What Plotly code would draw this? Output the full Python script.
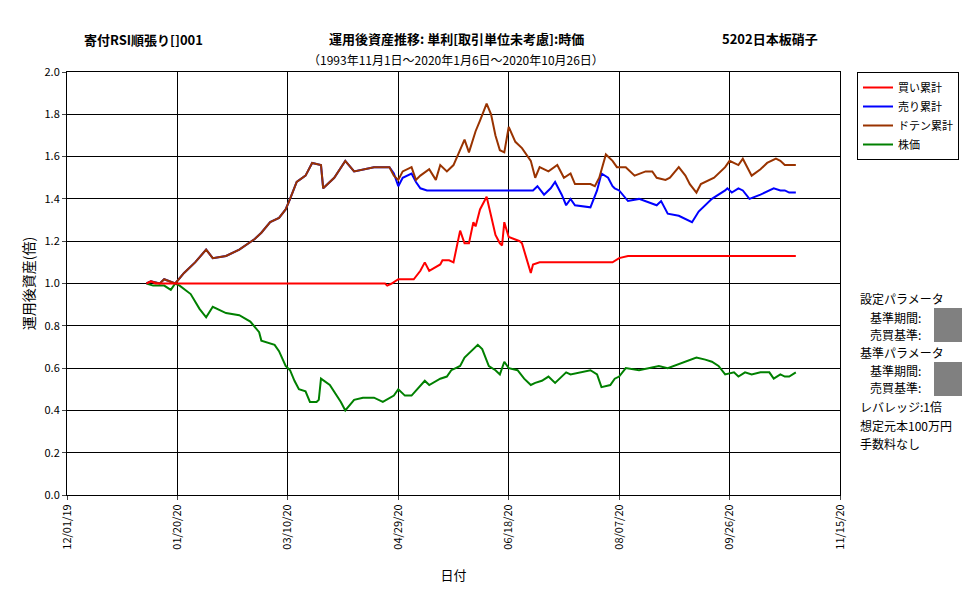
import pandas as pd
import plotly.graph_objects as go

BASE = "2019-12-01"
brown_days = [36,38,42,44,49,53,58,63,66,72,78,85,88,92,96,99,101,104,108,111,115,116,121,126,130,134,139,144,146,148,150,152,156,158,160,164,167,169,172,175,178,180,182,185,187,190,192,194,196,198,200,203,206,210,212,214,218,222,225,228,230,237,239,241,244,247,249,253,257,262,265,267,271,273,277,280,282,285,287,293,298,300,304,306,310,314,317,321,323,325,327,330]
brown_vals = [1.00,1.01,1.00,1.02,1.00,1.05,1.10,1.16,1.12,1.13,1.16,1.21,1.24,1.29,1.31,1.35,1.40,1.48,1.51,1.57,1.56,1.45,1.50,1.58,1.53,1.54,1.55,1.55,1.55,1.51,1.49,1.53,1.55,1.49,1.51,1.54,1.49,1.56,1.53,1.56,1.63,1.68,1.62,1.72,1.77,1.85,1.80,1.70,1.63,1.62,1.74,1.67,1.64,1.58,1.50,1.55,1.53,1.56,1.50,1.52,1.47,1.47,1.46,1.50,1.61,1.58,1.55,1.55,1.51,1.53,1.53,1.50,1.49,1.50,1.55,1.51,1.47,1.43,1.47,1.50,1.55,1.58,1.56,1.59,1.51,1.54,1.57,1.59,1.58,1.56,1.56,1.56]

blue_days = [36,38,42,44,49,53,58,63,66,72,78,85,88,92,96,99,101,104,108,111,115,116,121,126,130,134,139,144,146,148,150,152,156,158,160,163,211,213,216,219,221,224,226,228,230,237,240,242,245,247,248,250,254,259,262,267,269,272,277,283,286,292,298,299,301,304,306,309,314,318,320,323,325,327,330]
blue_vals = [1.00,1.01,1.00,1.02,1.00,1.05,1.10,1.16,1.12,1.13,1.16,1.21,1.24,1.29,1.31,1.35,1.40,1.48,1.51,1.57,1.56,1.45,1.50,1.58,1.53,1.54,1.55,1.55,1.55,1.52,1.46,1.50,1.52,1.48,1.45,1.44,1.44,1.46,1.42,1.45,1.48,1.42,1.37,1.40,1.37,1.36,1.44,1.52,1.50,1.46,1.45,1.44,1.39,1.40,1.39,1.37,1.39,1.33,1.32,1.29,1.34,1.40,1.44,1.45,1.43,1.45,1.44,1.40,1.42,1.44,1.45,1.44,1.44,1.43,1.43]

red_days = [36,38,40,42,144,145,147,150,157,160,162,164,169,170,173,175,177,178,180,182,184,185,187,190,192,194,196,197,198,200,205,206,208,210,211,214,247,250,254,330]
red_vals = [1.00,1.01,1.00,1.00,1.00,0.99,1.00,1.02,1.02,1.06,1.10,1.06,1.09,1.11,1.11,1.10,1.19,1.25,1.19,1.19,1.29,1.27,1.35,1.41,1.32,1.23,1.19,1.18,1.29,1.22,1.20,1.19,1.12,1.05,1.09,1.10,1.10,1.12,1.13,1.13]

green_days = [36,39,44,47,49,51,56,60,63,66,72,78,83,87,88,91,94,96,99,101,103,105,108,110,113,114,115,119,121,124,126,130,134,136,139,143,146,148,150,153,156,160,162,164,169,172,174,176,178,180,181,186,188,191,194,196,198,200,204,207,210,212,215,218,221,223,226,228,237,240,242,246,248,250,253,259,264,268,272,277,282,285,289,292,295,298,302,304,307,310,314,318,320,323,325,327,330]
green_vals = [1.00,0.99,0.99,0.97,1.00,0.99,0.95,0.88,0.84,0.89,0.86,0.85,0.82,0.77,0.73,0.72,0.71,0.68,0.61,0.59,0.54,0.50,0.49,0.44,0.44,0.45,0.55,0.52,0.49,0.44,0.40,0.45,0.46,0.46,0.46,0.44,0.46,0.47,0.50,0.47,0.47,0.52,0.54,0.52,0.55,0.56,0.59,0.60,0.61,0.65,0.66,0.71,0.69,0.61,0.59,0.57,0.63,0.60,0.59,0.55,0.52,0.53,0.54,0.56,0.53,0.55,0.58,0.57,0.59,0.57,0.51,0.52,0.55,0.56,0.60,0.59,0.60,0.61,0.60,0.62,0.64,0.65,0.64,0.63,0.61,0.57,0.58,0.56,0.58,0.57,0.58,0.58,0.55,0.57,0.56,0.56,0.58]

series_names = ["買い累計", "売り累計", "ドテン累計", "株価"]
series_colors = ["#ff0000", "#0000ff", "#993300", "#008000"]
tick_dates = ["2019-12-01","2020-01-20","2020-03-10","2020-04-29","2020-06-18","2020-08-07","2020-09-26","2020-11-15"]

def to_dates(days):
    return pd.Timestamp(BASE) + pd.to_timedelta(days, unit="D")

L, R, T, B = 67, 840, 72, 495
OFF = 8  # page offset
def px(x): return (x - L) / (R - L)
def py(y): return (B - y) / (B - T)

FONT = "Noto Sans CJK JP"
fig = go.Figure()
data = [(red_days, red_vals), (blue_days, blue_vals), (brown_days, brown_vals), (green_days, green_vals)]
for i in [3, 1, 2, 0]:
    d, v = data[i]
    fig.add_trace(go.Scatter(x=to_dates(d), y=v, mode="lines", name=series_names[i],
                             line=dict(color=series_colors[i], width=2), legendrank=i+1))

fig.update_layout(
    width=977, height=600, paper_bgcolor="white", plot_bgcolor="white",
    margin=dict(l=L-OFF, r=977-R+OFF, t=T-OFF, b=600-B+OFF, autoexpand=False),
    font=dict(family=FONT, size=12, color="black"),
    showlegend=True,
    legend=dict(x=px(857), y=py(72), xanchor="left", yanchor="top", bordercolor="black", borderwidth=1,
                font=dict(size=11), tracegroupgap=6, itemwidth=30),
    xaxis=dict(range=[pd.Timestamp(tick_dates[0]), pd.Timestamp(tick_dates[-1])],
               tickvals=pd.to_datetime(tick_dates),
               ticktext=[pd.Timestamp(t).strftime("%m/%d/%y") for t in tick_dates],
               tickangle=-90, showgrid=True, gridcolor="black", gridwidth=1, automargin=False,
               showline=True, linecolor="black", mirror=True, ticks="outside", ticklen=4,
               title=dict(text="日付", standoff=22, font=dict(size=13)), tickfont=dict(size=11)),
    yaxis=dict(range=[0, 2], dtick=0.2, tickformat=".1f", showgrid=True, gridcolor="black",
               gridwidth=1, showline=True, linecolor="black", mirror=True, ticks="outside",
               ticklen=4, zeroline=False, title=dict(text="運用後資産(倍)", standoff=6),
               tickfont=dict(size=11), automargin=False),
)

ann = [
    dict(x=143, y=40, text="<b>寄付RSI順張り[]001</b>", s=13),
    dict(x=456, y=38, text="<b>運用後資産推移: 単利[取引単位未考慮]:時価</b>", s=13),
    dict(x=770, y=38, text="<b>5202日本板硝子</b>", s=13),
    dict(x=456, y=60, text="（1993年11月1日～2020年1月6日～2020年10月26日）", s=12),
]
for a in ann:
    fig.add_annotation(x=px(a["x"]), y=py(a["y"]), xref="paper", yref="paper",
                       text=a["text"], showarrow=False, font=dict(size=a["s"]),
                       xanchor="center", yanchor="middle")

side = [("設定パラメータ", 858, 298), ("基準期間:", 868, 317), ("売買基準:", 868, 334),
        ("基準パラメータ", 858, 352), ("基準期間:", 868, 370), ("売買基準:", 868, 387),
        ("レバレッジ:1倍", 858, 406), ("想定元本100万円", 858, 425), ("手数料なし", 858, 443)]
for t, x, y in side:
    fig.add_annotation(x=px(x), y=py(y), xref="paper", yref="paper", text=t, showarrow=False,
                       xanchor="left", yanchor="middle", font=dict(size=12))
for y0 in [308, 362]:
    fig.add_shape(type="rect", xref="paper", yref="paper", x0=px(934), x1=px(962),
                  y0=py(y0+34), y1=py(y0), fillcolor="#808080", line=dict(width=0))

fig.write_html("out.html")
